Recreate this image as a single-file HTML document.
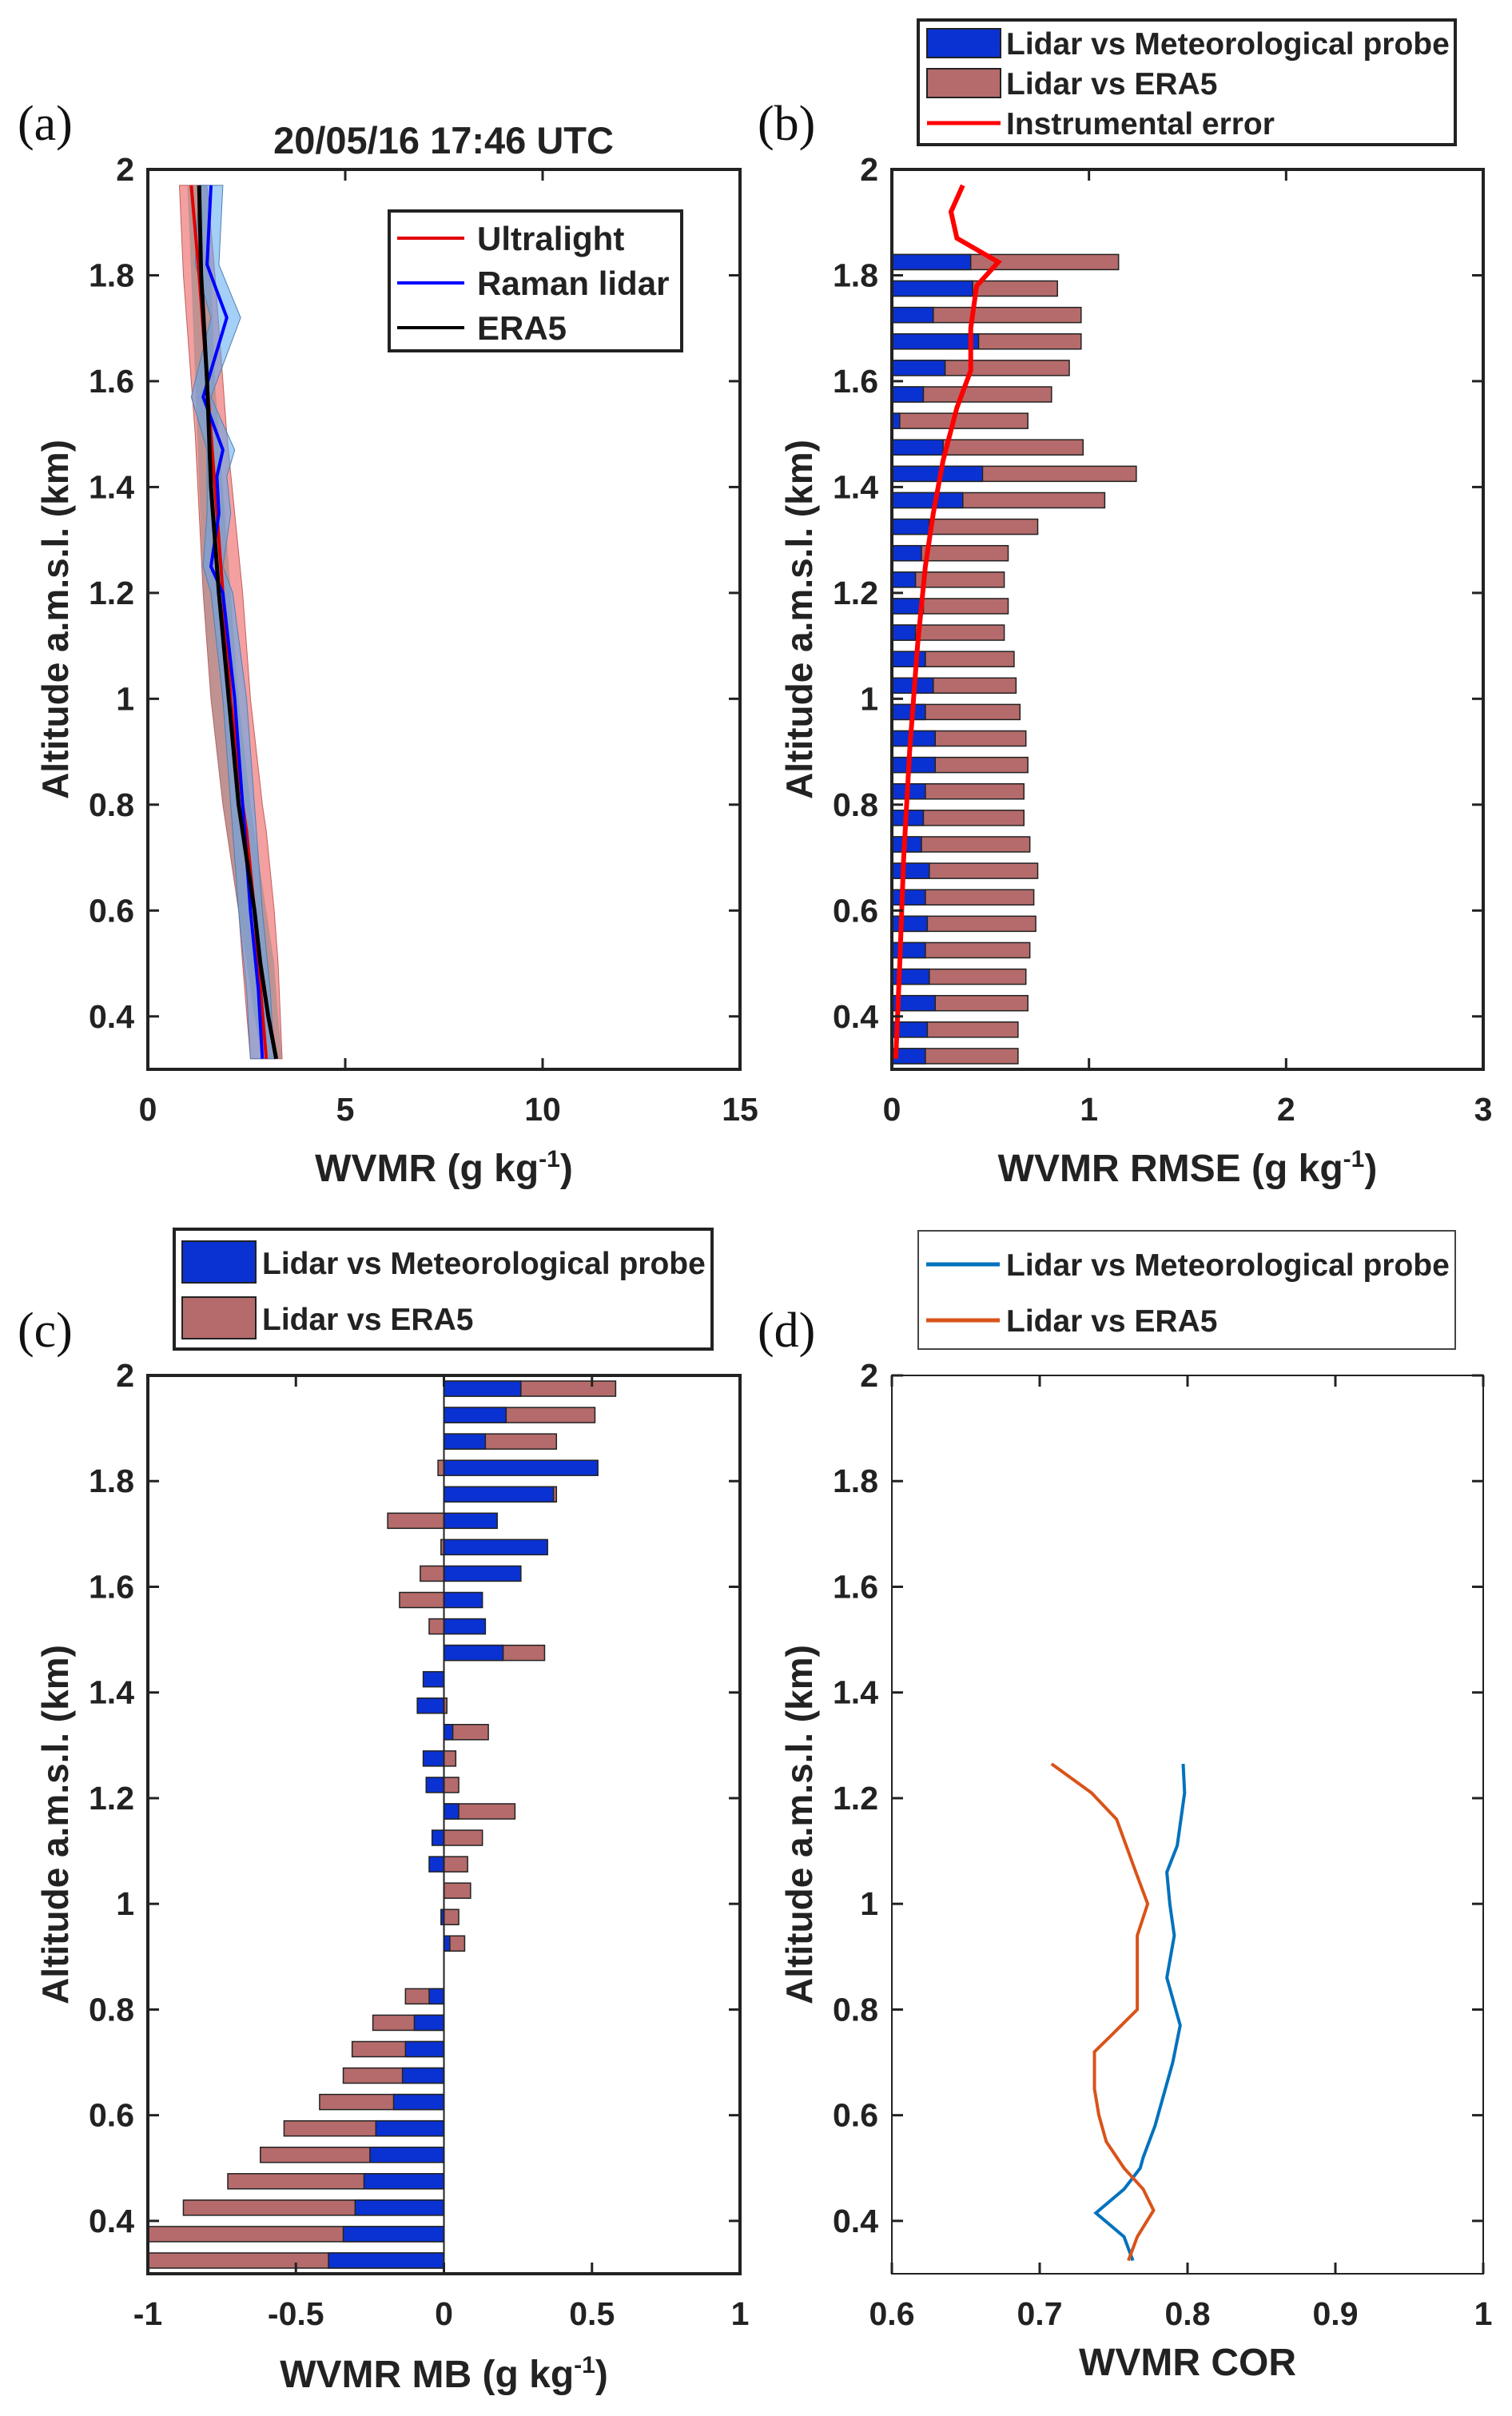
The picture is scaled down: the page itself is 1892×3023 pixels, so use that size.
<!DOCTYPE html>
<html><head><meta charset="utf-8">
<style>
html,body{margin:0;padding:0;background:#fff;}
svg{display:block;}
text{font-family:"Liberation Sans",sans-serif;font-weight:bold;fill:#222;}
.pl{font-family:"Liberation Serif",serif;font-weight:normal;fill:#111;}
</style></head>
<body>
<svg id="fig" width="1892" height="3023" viewBox="0 0 1892 3023" xmlns="http://www.w3.org/2000/svg"></svg>
<script>
// ---- Panel (a) data ----
const eraAlt = [1.97,1.8,1.6,1.4,1.2,1.0,0.8,0.7,0.6,0.5,0.4,0.32];
const eraVal = [1.3,1.35,1.5,1.6,1.8,2.05,2.3,2.5,2.7,2.85,3.05,3.25];
const ramanAlt = [1.97,1.82,1.72,1.57,1.47,1.42,1.35,1.25,1.2,1.0,0.8,0.6,0.45,0.32];
const ramanVal = [1.6,1.5,2.0,1.4,1.9,1.75,1.8,1.6,1.9,2.2,2.4,2.6,2.8,2.9];
const ramanLo = [1.3,1.2,1.6,1.1,1.5,1.5,1.5,1.4,1.6,1.9,2.1,2.3,2.5,2.6];
const ramanHi = [1.9,1.8,2.35,1.6,2.2,2.0,2.1,1.9,2.15,2.5,2.7,2.9,3.1,3.2];
const ulAlt = [1.97,1.8,1.6,1.5,1.2,1.0,0.8,0.75,0.6,0.5,0.32];
const ulVal = [1.1,1.3,1.5,1.6,1.9,2.1,2.4,2.5,2.7,2.8,3.0];
const ulLo = [0.8,0.9,1.1,1.2,1.4,1.6,1.9,2.0,2.3,2.4,2.6];
const ulHi = [1.5,1.7,1.9,2.0,2.4,2.6,2.9,3.0,3.2,3.3,3.4];
const eraLo = [1.0,1.1,1.2,1.3,1.4,1.6,1.9,2.1,2.3,2.5,2.7,2.9];
const eraHi = [1.5,1.6,1.7,1.9,2.1,2.3,2.6,2.8,3.0,3.2,3.3,3.4];
// ---- Panel (b) data ----
const rmseAlt = [1.825,1.775,1.725,1.675,1.625,1.575,1.525,1.475,1.425,1.375,1.325,1.275,1.225,1.175,1.125,1.075,1.025,0.975,0.925,0.875,0.825,0.775,0.725,0.675,0.625,0.575,0.525,0.475,0.425,0.375,0.325];
const rmseProbe = [0.40,0.41,0.21,0.44,0.27,0.16,0.04,0.26,0.46,0.36,0.19,0.15,0.12,0.16,0.12,0.17,0.21,0.17,0.22,0.22,0.17,0.16,0.15,0.19,0.17,0.18,0.17,0.19,0.22,0.18,0.17];
const rmseEra = [1.15,0.84,0.96,0.96,0.90,0.81,0.69,0.97,1.24,1.08,0.74,0.59,0.57,0.59,0.57,0.62,0.63,0.65,0.68,0.69,0.67,0.67,0.70,0.74,0.72,0.73,0.70,0.68,0.69,0.64,0.64];
const errAlt = [1.97,1.92,1.87,1.825,1.78,1.7,1.62,1.55,1.45,1.35,1.25,1.1,0.9,0.7,0.5,0.32];
const errVal = [0.36,0.30,0.33,0.54,0.43,0.40,0.40,0.33,0.26,0.21,0.17,0.13,0.09,0.06,0.04,0.02];
// ---- Panel (c) data ----
const mbAlt = [1.975,1.925,1.875,1.825,1.775,1.725,1.675,1.625,1.575,1.525,1.475,1.425,1.375,1.325,1.275,1.225,1.175,1.125,1.075,1.025,0.975,0.925,0.875,0.825,0.775,0.725,0.675,0.625,0.575,0.525,0.475,0.425,0.375,0.325];
const mbProbe = [0.26,0.21,0.14,0.52,0.37,0.18,0.35,0.26,0.13,0.14,0.20,-0.07,-0.09,0.03,-0.07,-0.06,0.05,-0.04,-0.05,0,-0.01,0.02,0,-0.05,-0.10,-0.13,-0.14,-0.17,-0.23,-0.25,-0.27,-0.30,-0.34,-0.39];
const mbEra = [0.58,0.51,0.38,-0.02,0.38,-0.19,-0.01,-0.08,-0.15,-0.05,0.34,0,0.01,0.15,0.04,0.05,0.24,0.13,0.08,0.09,0.05,0.07,0,-0.13,-0.24,-0.31,-0.34,-0.42,-0.54,-0.62,-0.73,-0.88,-1.05,-1.05];
// ---- Panel (d) data ----
const corProbeAlt = [1.265,1.21,1.11,1.06,1.0,0.94,0.86,0.77,0.7,0.62,0.58,0.52,0.5,0.46,0.415,0.37,0.325];
const corProbe = [0.797,0.798,0.793,0.786,0.788,0.791,0.786,0.795,0.790,0.782,0.778,0.770,0.768,0.757,0.738,0.757,0.763];
const corEraAlt = [1.265,1.21,1.16,1.06,1.0,0.94,0.8,0.75,0.72,0.65,0.6,0.55,0.5,0.46,0.42,0.37,0.325];
const corEra = [0.708,0.735,0.752,0.765,0.773,0.766,0.766,0.748,0.737,0.737,0.740,0.745,0.757,0.770,0.777,0.766,0.760];
const yTicks = [0.4,0.6,0.8,1,1.2,1.4,1.6,1.8,2];
const yTickLabels = ["0.4","0.6","0.8","1","1.2","1.4","1.6","1.8","2"];

const NS="http://www.w3.org/2000/svg";
const svg=document.getElementById('fig');
function el(tag,attrs,parent,txt){const e=document.createElementNS(NS,tag);for(const k in attrs)e.setAttribute(k,attrs[k]);if(txt!==undefined)e.textContent=txt;(parent||svg).appendChild(e);return e;}

function panel(o){
  const g=el('g',{});
  
  
  const X=v=>o.x0+(v-o.xmin)/(o.xmax-o.xmin)*(o.x1-o.x0);
  const Y=v=>o.y1-(v-0.3)/(2-0.3)*(o.y1-o.y0);
  o.X=X;o.Y=Y;o.g=g;
  return o;
}
function axes(o){
  const g=o.g;
  const ax=el('g',{},g);
  
  
  el('rect',{x:o.x0,y:o.y0,width:o.x1-o.x0,height:o.y1-o.y0,fill:'none',stroke:'#222','stroke-width':o.bw||4},ax);
  yTicks.forEach((v,i)=>{const y=o.Y(v);
    el('line',{x1:o.x0,x2:o.x0+14,y1:y,y2:y,stroke:'#222','stroke-width':3},ax);
    el('line',{x1:o.x1,x2:o.x1-14,y1:y,y2:y,stroke:'#222','stroke-width':3},ax);
    const t=el('text',{x:o.x0-17,y:y+14,'text-anchor':'end','font-size':41},ax,yTickLabels[i]);
    
    
  });
  o.xTicks.forEach((v,i)=>{const x=o.X(v);
    el('line',{x1:x,x2:x,y1:o.y1,y2:o.y1-14,stroke:'#222','stroke-width':3},ax);
    el('line',{x1:x,x2:x,y1:o.y0,y2:o.y0+14,stroke:'#222','stroke-width':3},ax);
    const t=el('text',{x:x,y:o.y1+64,'text-anchor':'middle','font-size':41},ax,o.xLabels[i]);
    
    
  });
  const yt=el('text',{x:0,y:0,'text-anchor':'middle','font-size':46,transform:`translate(${o.x0-100},${(o.y0+o.y1)/2}) rotate(-90)`},g,'Altitude a.m.s.l. (km)');
  
  
  const xt=el('text',{x:(o.x0+o.x1)/2,y:o.xTitleY,'text-anchor':'middle','font-size':48},g);
  
  
  xt.innerHTML=o.xTitle;
  const pl=el('text',{x:o.plX,y:o.plY,'font-size':62,class:'pl'},g,o.pl);
  
  
}
function pathFrom(o,alts,vals){return alts.map((a,i)=>(i?'L':'M')+o.X(vals[i]).toFixed(1)+','+o.Y(a).toFixed(1)).join(' ');}
function band(o,alts,lo,hi){let d=alts.map((a,i)=>(i?'L':'M')+o.X(lo[i]).toFixed(1)+','+o.Y(a).toFixed(1)).join(' ');
  for(let i=alts.length-1;i>=0;i--)d+=' L'+o.X(hi[i]).toFixed(1)+','+o.Y(alts[i]).toFixed(1);return d+'Z';}
const sup='<tspan font-size="30" dy="-18">-1</tspan><tspan dy="18">)</tspan>';

// Panel a
const A=panel({name:'panel-a',x0:185,x1:926,y0:212,y1:1338,xmin:0,xmax:15,xTicks:[0,5,10,15],xLabels:['0','5','10','15'],xTitle:'WVMR (g kg'+sup,xTitleY:1478,pl:'(a)',plX:22,plY:175});
let p;
p=el('path',{d:band(A,ulAlt,ulLo,ulHi),fill:'#f08080','fill-opacity':0.75,stroke:'#c06060','stroke-width':1},A.g);

p=el('path',{d:band(A,eraAlt,eraLo,eraHi),fill:'#808080','fill-opacity':0.45,stroke:'none'},A.g);

p=el('path',{d:band(A,ramanAlt,ramanLo,ramanHi),fill:'#5aa8f0','fill-opacity':0.55,stroke:'#5080b0','stroke-width':1},A.g);

p=el('path',{d:pathFrom(A,ulAlt,ulVal),fill:'none',stroke:'#e00000','stroke-width':4},A.g);

p=el('path',{d:pathFrom(A,ramanAlt,ramanVal),fill:'none',stroke:'#0000ff','stroke-width':4},A.g);

p=el('path',{d:pathFrom(A,eraAlt,eraVal),fill:'none',stroke:'#000','stroke-width':5},A.g);

axes(A);
const tt=el('text',{x:555,y:192,'text-anchor':'middle','font-size':47},A.g,'20/05/16 17:46 UTC');

// legend a
const la=el('g',{},A.g);
el('rect',{x:487,y:264,width:366,height:175,fill:'#fff',stroke:'#222','stroke-width':4},la);
[['Ultralight','#e00000',298],['Raman lidar','#0000ff',354],['ERA5','#000',410]].forEach(e=>{
  el('line',{x1:497,x2:581,y1:e[2],y2:e[2],stroke:e[1],'stroke-width':4},la);
  const t=el('text',{x:597,y:e[2]+15,'font-size':42},la,e[0]);
  
});

// Panel b
const B=panel({name:'panel-b',x0:1116,x1:1856,y0:212,y1:1338,xmin:0,xmax:3,xTicks:[0,1,2,3],xLabels:['0','1','2','3'],xTitle:'WVMR RMSE (g kg'+sup,xTitleY:1478,pl:'(b)',plX:948,plY:175});
const bh=19;
rmseAlt.forEach((a,i)=>{const y=B.Y(a)-bh/2;
  let r=el('rect',{x:B.X(0),y:y,width:B.X(rmseEra[i])-B.X(0),height:bh,fill:'#b56b6b',stroke:'#222','stroke-width':1.5},B.g);
  
  r=el('rect',{x:B.X(0),y:y,width:B.X(rmseProbe[i])-B.X(0),height:bh,fill:'#0a32d2',stroke:'#222','stroke-width':1.5},B.g);
  
});
p=el('path',{d:pathFrom(B,errAlt,errVal),fill:'none',stroke:'#ff0000','stroke-width':6},B.g);

axes(B);
const lb=el('g',{},B.g);
el('rect',{x:1149,y:25,width:672,height:156,fill:'#fff',stroke:'#222','stroke-width':4},lb);
el('rect',{x:1160,y:36,width:92,height:36,fill:'#0a32d2',stroke:'#222','stroke-width':2},lb);
el('rect',{x:1160,y:86,width:92,height:36,fill:'#b56b6b',stroke:'#222','stroke-width':2},lb);
el('line',{x1:1160,x2:1252,y1:154,y2:154,stroke:'#ff0000','stroke-width':5},lb);
[['Lidar vs Meteorological probe',54],['Lidar vs ERA5',104],['Instrumental error',154]].forEach(e=>{
  const t=el('text',{x:1259,y:e[1]+14,'font-size':39},lb,e[0]);
  
});

// Panel c
const C=panel({name:'panel-c',x0:185,x1:926,y0:1721,y1:2845,xmin:-1,xmax:1,xTicks:[-1,-0.5,0,0.5,1],xLabels:['-1','-0.5','0','0.5','1'],xTitle:'WVMR MB (g kg'+sup,xTitleY:2987,pl:'(c)',plX:22,plY:1685});
const cl=el('clipPath',{id:'clipc'},C.g);el('rect',{x:185,y:1721,width:741,height:1124},cl);
const cg=el('g',{'clip-path':'url(#clipc)'},C.g);
mbAlt.forEach((a,i)=>{const y=C.Y(a)-bh/2;const z=C.X(0);
  let x1=C.X(mbEra[i]);
  let r=el('rect',{x:Math.min(z,x1),y:y,width:Math.abs(x1-z),height:bh,fill:'#b56b6b',stroke:'#222','stroke-width':1.5},cg);
  
  x1=C.X(mbProbe[i]);
  r=el('rect',{x:Math.min(z,x1),y:y,width:Math.abs(x1-z),height:bh,fill:'#0a32d2',stroke:'#222','stroke-width':1.5},cg);
  
});
el('line',{x1:C.X(0),x2:C.X(0),y1:1721,y2:2845,stroke:'#222','stroke-width':2},C.g);
axes(C);
const lc=el('g',{},C.g);
el('rect',{x:218,y:1538,width:673,height:150,fill:'#fff',stroke:'#222','stroke-width':4},lc);
el('rect',{x:228,y:1553,width:92,height:52,fill:'#0a32d2',stroke:'#222','stroke-width':2},lc);
el('rect',{x:228,y:1623,width:92,height:52,fill:'#b56b6b',stroke:'#222','stroke-width':2},lc);
[['Lidar vs Meteorological probe',1580],['Lidar vs ERA5',1650]].forEach(e=>{
  const t=el('text',{x:328,y:e[1]+14,'font-size':39},lc,e[0]);
  
});

// Panel d
const D=panel({name:'panel-d',x0:1116,x1:1856,y0:1721,y1:2845,xmin:0.6,xmax:1,xTicks:[0.6,0.7,0.8,0.9,1],xLabels:['0.6','0.7','0.8','0.9','1'],xTitle:'WVMR COR',xTitleY:2972,pl:'(d)',plX:948,plY:1685,bw:2});
p=el('path',{d:pathFrom(D,corProbeAlt,corProbe),fill:'none',stroke:'#0072bd','stroke-width':4},D.g);

p=el('path',{d:pathFrom(D,corEraAlt,corEra),fill:'none',stroke:'#d95319','stroke-width':4},D.g);

axes(D);
const ld=el('g',{},D.g);
el('rect',{x:1149,y:1540,width:672,height:148,fill:'#fff',stroke:'#444','stroke-width':2},ld);
el('line',{x1:1159,x2:1251,y1:1582,y2:1582,stroke:'#0072bd','stroke-width':5},ld);
el('line',{x1:1159,x2:1251,y1:1652,y2:1652,stroke:'#d95319','stroke-width':5},ld);
[['Lidar vs Meteorological probe',1582],['Lidar vs ERA5',1652]].forEach(e=>{
  const t=el('text',{x:1259,y:e[1]+14,'font-size':39},ld,e[0]);
  
});
</script>
</body></html>
